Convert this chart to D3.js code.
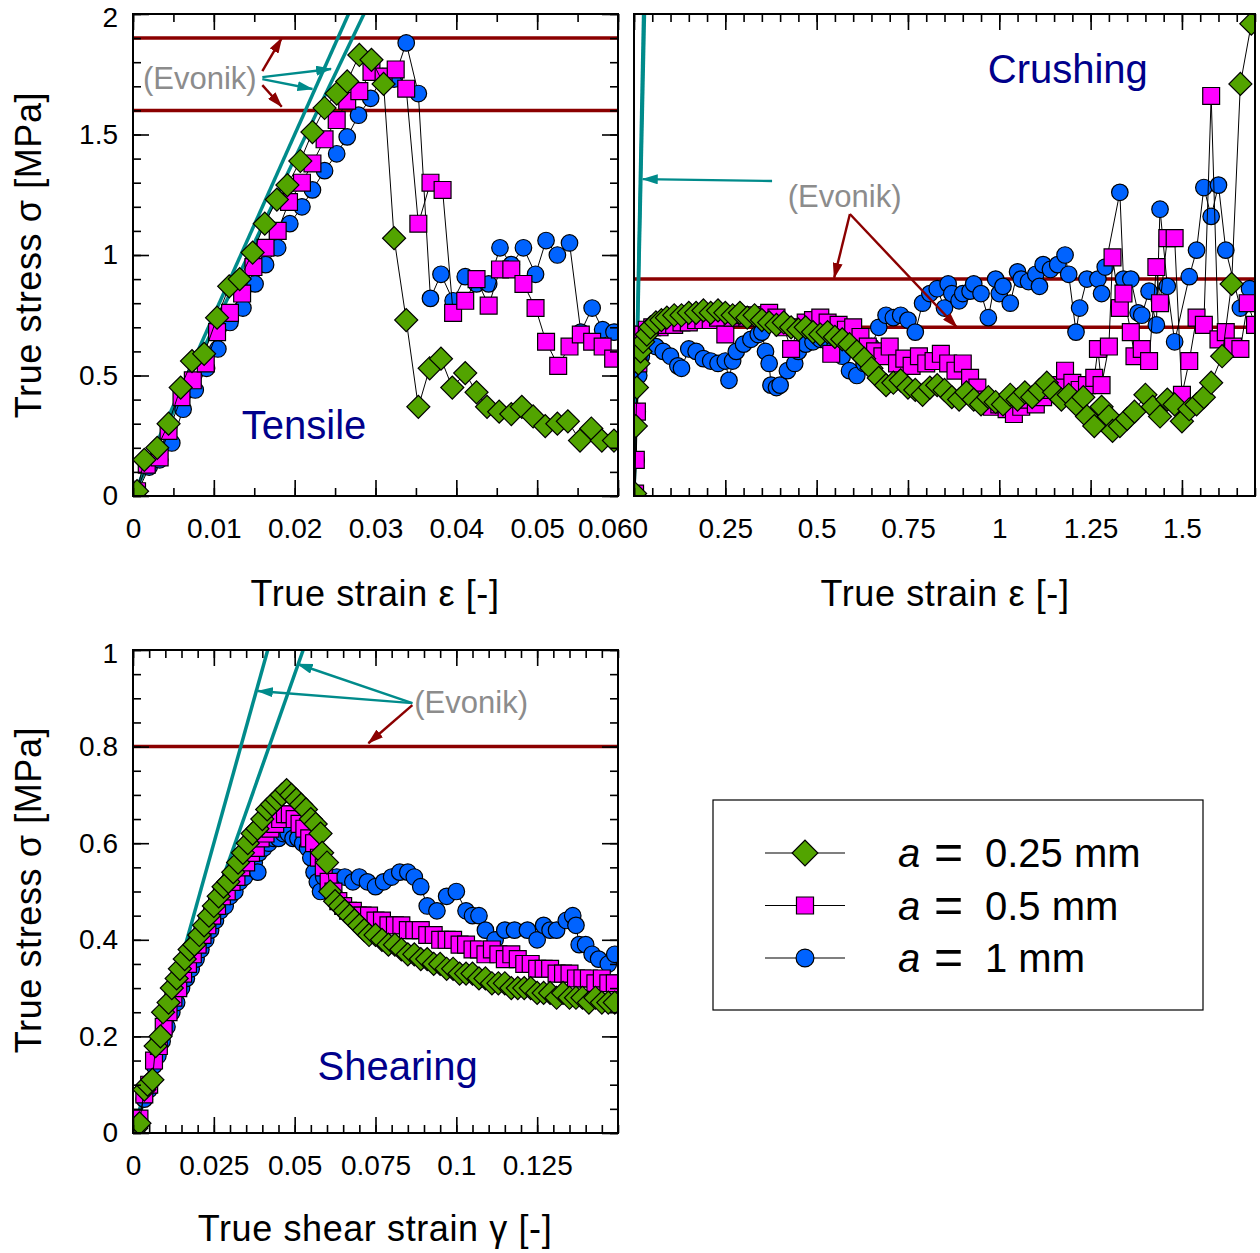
<!DOCTYPE html>
<html><head><meta charset="utf-8">
<script src="https://cdn.jsdelivr.net/npm/d3@7"></script>
<style>
body{margin:0;background:#fff}
svg{display:block}
text{font-family:"Liberation Sans",Arial,sans-serif}
</style>
</head><body>
<svg id="c" width="1260" height="1253"></svg>
<script>
// ---------------- DATA ----------------
const seriesNames = ["a = 0.25 mm", "a = 0.5 mm", "a = 1 mm"];

// Tensile: [true strain, true stress MPa]
const tensileA025 = [[0.0005,0.02],[0.0014,0.15],[0.0030,0.20],[0.0044,0.30],[0.0059,0.45],[0.0073,0.56],[0.0088,0.59],[0.0104,0.74],[0.0119,0.87],[0.0132,0.90],[0.0148,1.01],[0.0163,1.13],[0.0178,1.23],[0.0191,1.29],[0.0207,1.39],[0.0222,1.51],[0.0237,1.61],[0.0252,1.67],[0.0265,1.72],[0.0280,1.83],[0.0295,1.81],[0.0310,1.71],[0.0323,1.07],[0.0338,0.73],[0.0353,0.37],[0.0367,0.53],[0.0381,0.57],[0.0395,0.45],[0.0411,0.51],[0.0425,0.43],[0.0438,0.37],[0.0453,0.35],[0.0468,0.34],[0.0481,0.37],[0.0495,0.33],[0.0510,0.29],[0.0525,0.30],[0.0538,0.31],[0.0553,0.23],[0.0567,0.28],[0.0580,0.23],[0.0595,0.23]];
const tensileA05 = [[0.0005,0.02],[0.0017,0.13],[0.0033,0.16],[0.0044,0.27],[0.0060,0.41],[0.0074,0.48],[0.0090,0.55],[0.0104,0.68],[0.0120,0.76],[0.0135,0.84],[0.0149,0.95],[0.0164,1.03],[0.0179,1.10],[0.0193,1.22],[0.0209,1.30],[0.0222,1.38],[0.0237,1.48],[0.0252,1.56],[0.0265,1.64],[0.0280,1.68],[0.0295,1.76],[0.0310,1.74],[0.0325,1.77],[0.0338,1.69],[0.0353,1.13],[0.0368,1.30],[0.0383,1.27],[0.0396,0.76],[0.0411,0.81],[0.0425,0.90],[0.0440,0.79],[0.0454,0.94],[0.0468,0.94],[0.0483,0.88],[0.0498,0.78],[0.0511,0.64],[0.0526,0.54],[0.0540,0.62],[0.0554,0.67],[0.0568,0.64],[0.0581,0.62],[0.0594,0.57]];
const tensileA1 = [[0.0005,0.01],[0.0020,0.12],[0.0033,0.15],[0.0048,0.22],[0.0062,0.36],[0.0077,0.44],[0.0091,0.53],[0.0105,0.61],[0.0120,0.72],[0.0136,0.78],[0.0151,0.88],[0.0164,0.96],[0.0179,1.03],[0.0194,1.13],[0.0209,1.20],[0.0222,1.27],[0.0237,1.35],[0.0252,1.42],[0.0265,1.49],[0.0279,1.58],[0.0294,1.65],[0.0309,1.74],[0.0323,1.73],[0.0338,1.88],[0.0353,1.67],[0.0368,0.82],[0.0381,0.92],[0.0396,0.81],[0.0411,0.91],[0.0425,0.88],[0.0440,0.88],[0.0454,1.03],[0.0468,0.96],[0.0483,1.03],[0.0498,0.92],[0.0511,1.06],[0.0525,1.00],[0.0540,1.05],[0.0554,0.68],[0.0568,0.78],[0.0581,0.69],[0.0595,0.68]];

// Crushing: [true strain, true stress MPa]
const crushA025 = [[0.003,0.01],[0.005,0.29],[0.008,0.45],[0.012,0.55],[0.018,0.60],[0.025,0.64],[0.035,0.67],[0.045,0.70],[0.06,0.72],[0.075,0.73],[0.09,0.74],[0.11,0.75],[0.13,0.75],[0.15,0.76],[0.17,0.76],[0.19,0.77],[0.21,0.76],[0.23,0.77],[0.25,0.76],[0.27,0.75],[0.29,0.76],[0.31,0.74],[0.33,0.75],[0.35,0.73],[0.37,0.72],[0.39,0.71],[0.41,0.72],[0.43,0.70],[0.45,0.69],[0.47,0.70],[0.49,0.68],[0.51,0.67],[0.53,0.68],[0.55,0.66],[0.57,0.65],[0.59,0.63],[0.61,0.60],[0.63,0.57],[0.65,0.53],[0.67,0.49],[0.69,0.46],[0.71,0.47],[0.73,0.48],[0.75,0.45],[0.77,0.44],[0.79,0.42],[0.81,0.45],[0.83,0.46],[0.85,0.44],[0.87,0.41],[0.89,0.40],[0.91,0.43],[0.93,0.40],[0.95,0.38],[0.97,0.41],[0.99,0.39],[1.01,0.38],[1.03,0.42],[1.05,0.40],[1.07,0.43],[1.09,0.41],[1.11,0.44],[1.13,0.47],[1.15,0.43],[1.17,0.40],[1.19,0.42],[1.21,0.38],[1.23,0.41],[1.24,0.33],[1.26,0.29],[1.28,0.37],[1.30,0.33],[1.31,0.27],[1.33,0.29],[1.35,0.32],[1.37,0.35],[1.40,0.42],[1.42,0.37],[1.44,0.33],[1.46,0.40],[1.48,0.38],[1.50,0.31],[1.52,0.36],[1.54,0.38],[1.56,0.41],[1.58,0.47],[1.61,0.58],[1.636,0.88],[1.66,1.71],[1.69,1.96]];
const crushA05 = [[0.003,0.01],[0.005,0.15],[0.008,0.35],[0.012,0.55],[0.018,0.63],[0.025,0.67],[0.035,0.69],[0.05,0.70],[0.07,0.70],[0.09,0.71],[0.11,0.71],[0.13,0.72],[0.15,0.72],[0.17,0.73],[0.19,0.73],[0.21,0.73],[0.23,0.74],[0.25,0.67],[0.27,0.74],[0.29,0.75],[0.31,0.74],[0.33,0.75],[0.35,0.75],[0.37,0.76],[0.39,0.74],[0.41,0.70],[0.43,0.61],[0.45,0.70],[0.47,0.72],[0.49,0.73],[0.51,0.74],[0.53,0.72],[0.54,0.59],[0.56,0.71],[0.58,0.69],[0.60,0.70],[0.62,0.66],[0.64,0.62],[0.66,0.60],[0.68,0.58],[0.70,0.62],[0.72,0.55],[0.74,0.57],[0.76,0.54],[0.78,0.58],[0.80,0.55],[0.82,0.56],[0.84,0.59],[0.86,0.55],[0.88,0.52],[0.90,0.55],[0.92,0.49],[0.94,0.45],[0.96,0.40],[0.98,0.37],[1.00,0.38],[1.02,0.36],[1.04,0.34],[1.06,0.37],[1.08,0.40],[1.10,0.38],[1.12,0.41],[1.14,0.44],[1.16,0.46],[1.18,0.52],[1.20,0.47],[1.22,0.44],[1.24,0.46],[1.26,0.49],[1.27,0.61],[1.28,0.46],[1.30,0.62],[1.31,0.99],[1.33,0.78],[1.34,0.84],[1.36,0.68],[1.37,0.58],[1.39,0.61],[1.41,0.56],[1.43,0.95],[1.44,0.80],[1.46,1.07],[1.48,1.07],[1.50,0.42],[1.52,0.56],[1.54,0.74],[1.56,0.71],[1.58,1.66],[1.60,0.65],[1.62,0.68],[1.64,0.62],[1.66,0.61],[1.68,0.80],[1.70,0.71]];
const crushA1 = [[0.003,0.01],[0.006,0.15],[0.009,0.35],[0.013,0.50],[0.02,0.58],[0.03,0.62],[0.045,0.63],[0.06,0.62],[0.08,0.60],[0.10,0.58],[0.12,0.54],[0.13,0.53],[0.15,0.61],[0.17,0.60],[0.19,0.57],[0.21,0.56],[0.23,0.55],[0.25,0.56],[0.26,0.48],[0.27,0.56],[0.28,0.60],[0.30,0.63],[0.32,0.65],[0.34,0.67],[0.35,0.68],[0.36,0.60],[0.37,0.55],[0.375,0.46],[0.39,0.45],[0.40,0.46],[0.42,0.52],[0.44,0.55],[0.45,0.60],[0.47,0.63],[0.49,0.64],[0.51,0.65],[0.53,0.64],[0.55,0.62],[0.57,0.58],[0.59,0.52],[0.61,0.50],[0.63,0.55],[0.65,0.62],[0.67,0.70],[0.69,0.75],[0.71,0.74],[0.73,0.75],[0.75,0.73],[0.77,0.68],[0.79,0.80],[0.81,0.84],[0.83,0.86],[0.85,0.78],[0.86,0.88],[0.87,0.84],[0.89,0.81],[0.90,0.84],[0.92,0.85],[0.93,0.88],[0.95,0.84],[0.97,0.74],[0.99,0.90],[1.00,0.84],[1.01,0.87],[1.03,0.80],[1.05,0.93],[1.06,0.90],[1.08,0.89],[1.10,0.92],[1.11,0.87],[1.12,0.96],[1.14,0.94],[1.16,0.96],[1.18,1.00],[1.19,0.92],[1.21,0.68],[1.22,0.78],[1.24,0.90],[1.27,0.90],[1.28,0.84],[1.29,0.95],[1.33,1.26],[1.34,0.90],[1.36,0.90],[1.38,0.76],[1.39,0.75],[1.41,0.85],[1.43,0.71],[1.44,1.19],[1.46,0.87],[1.48,0.64],[1.52,0.91],[1.54,1.02],[1.56,1.28],[1.58,1.16],[1.60,1.29],[1.62,1.02],[1.66,0.78],[1.685,0.86]];

// Shearing: [true shear strain, true stress MPa]
const shearA025 = [[0.001,0.01],[0.002,0.02],[0.0035,0.09],[0.0045,0.10],[0.006,0.11],[0.007,0.18],[0.0085,0.20],[0.0093,0.25],[0.011,0.27],[0.012,0.30],[0.0135,0.32],[0.0145,0.34],[0.016,0.36],[0.0175,0.38],[0.019,0.39],[0.0205,0.41],[0.022,0.43],[0.0235,0.45],[0.025,0.47],[0.0265,0.49],[0.028,0.51],[0.0295,0.52],[0.031,0.54],[0.0325,0.56],[0.034,0.58],[0.0355,0.60],[0.037,0.62],[0.0385,0.63],[0.040,0.65],[0.0415,0.67],[0.043,0.68],[0.0445,0.69],[0.046,0.70],[0.0475,0.71],[0.049,0.70],[0.0505,0.69],[0.052,0.68],[0.0535,0.67],[0.055,0.65],[0.0565,0.64],[0.058,0.62],[0.0585,0.58],[0.060,0.56],[0.061,0.50],[0.0625,0.48],[0.064,0.47],[0.0655,0.46],[0.067,0.45],[0.0685,0.44],[0.070,0.43],[0.0715,0.42],[0.073,0.41],[0.075,0.41],[0.077,0.40],[0.079,0.39],[0.081,0.39],[0.083,0.38],[0.085,0.37],[0.087,0.37],[0.089,0.36],[0.091,0.36],[0.093,0.35],[0.095,0.35],[0.097,0.34],[0.099,0.34],[0.101,0.33],[0.103,0.33],[0.105,0.33],[0.107,0.32],[0.109,0.32],[0.111,0.31],[0.113,0.31],[0.115,0.31],[0.117,0.30],[0.119,0.30],[0.121,0.30],[0.123,0.30],[0.125,0.29],[0.127,0.29],[0.129,0.29],[0.131,0.28],[0.133,0.29],[0.135,0.28],[0.137,0.28],[0.139,0.28],[0.141,0.27],[0.143,0.28],[0.145,0.27],[0.147,0.27],[0.149,0.27]];
const shearA05 = [[0.001,0.01],[0.002,0.03],[0.0035,0.08],[0.005,0.10],[0.0065,0.15],[0.008,0.18],[0.0095,0.22],[0.011,0.25],[0.0125,0.28],[0.014,0.30],[0.0155,0.33],[0.017,0.35],[0.0185,0.37],[0.020,0.39],[0.0215,0.41],[0.023,0.43],[0.0245,0.45],[0.026,0.47],[0.0275,0.49],[0.029,0.50],[0.0305,0.52],[0.032,0.53],[0.0335,0.55],[0.035,0.56],[0.0365,0.58],[0.038,0.59],[0.0395,0.61],[0.041,0.62],[0.0425,0.63],[0.044,0.64],[0.0455,0.65],[0.047,0.66],[0.0485,0.66],[0.050,0.65],[0.0515,0.64],[0.053,0.63],[0.0545,0.61],[0.056,0.60],[0.0575,0.57],[0.059,0.55],[0.0605,0.52],[0.062,0.50],[0.0635,0.48],[0.065,0.47],[0.0665,0.46],[0.068,0.46],[0.0695,0.45],[0.071,0.45],[0.073,0.45],[0.075,0.44],[0.077,0.44],[0.079,0.43],[0.081,0.43],[0.083,0.43],[0.085,0.42],[0.087,0.42],[0.089,0.42],[0.091,0.41],[0.093,0.41],[0.095,0.40],[0.097,0.40],[0.099,0.40],[0.101,0.39],[0.103,0.39],[0.105,0.38],[0.107,0.38],[0.109,0.37],[0.111,0.38],[0.113,0.37],[0.115,0.36],[0.117,0.37],[0.119,0.36],[0.121,0.35],[0.123,0.35],[0.125,0.34],[0.127,0.34],[0.129,0.34],[0.131,0.33],[0.133,0.33],[0.135,0.33],[0.137,0.32],[0.139,0.32],[0.141,0.32],[0.143,0.31],[0.145,0.32],[0.147,0.31],[0.149,0.31]];
const shearA1 = [[0.001,0.01],[0.002,0.02],[0.0035,0.07],[0.005,0.09],[0.0065,0.14],[0.0077,0.16],[0.009,0.19],[0.0105,0.22],[0.012,0.25],[0.0135,0.27],[0.015,0.30],[0.0165,0.32],[0.018,0.34],[0.0195,0.36],[0.021,0.38],[0.0225,0.40],[0.024,0.42],[0.0255,0.44],[0.027,0.46],[0.0285,0.47],[0.030,0.49],[0.0315,0.50],[0.033,0.52],[0.0345,0.53],[0.036,0.55],[0.0375,0.56],[0.0386,0.54],[0.039,0.58],[0.0405,0.59],[0.042,0.60],[0.0435,0.61],[0.045,0.61],[0.0465,0.62],[0.048,0.62],[0.0495,0.61],[0.051,0.61],[0.0525,0.60],[0.054,0.59],[0.055,0.57],[0.056,0.54],[0.057,0.52],[0.058,0.50],[0.059,0.53],[0.061,0.52],[0.063,0.53],[0.0655,0.53],[0.068,0.52],[0.070,0.53],[0.0725,0.52],[0.075,0.51],[0.0775,0.52],[0.080,0.53],[0.0825,0.54],[0.085,0.54],[0.087,0.53],[0.089,0.51],[0.091,0.47],[0.094,0.46],[0.097,0.49],[0.100,0.50],[0.103,0.46],[0.105,0.45],[0.107,0.45],[0.109,0.42],[0.112,0.40],[0.115,0.42],[0.118,0.42],[0.122,0.42],[0.125,0.40],[0.127,0.43],[0.129,0.42],[0.131,0.42],[0.134,0.44],[0.136,0.45],[0.137,0.43],[0.138,0.39],[0.140,0.39],[0.142,0.37],[0.144,0.36],[0.147,0.35],[0.149,0.37]];

// Evonik reference values
const evonikTensileModulus = [75, 70];      // MPa (teal lines)
const evonikTensileStrength = [1.9, 1.6];   // MPa (dark red lines)
const evonikCrushModulus = [76, 70];
const evonikCrushStrength = [0.9, 0.7];
const evonikShearModulus = [24, 19];
const evonikShearStrength = [0.8];

// Tick labels
const tensileXTicks = [0, 0.01, 0.02, 0.03, 0.04, 0.05, 0.06];
const tensileXLabels = ["0","0.01","0.02","0.03","0.04","0.05","0.06"];
const stressYTicks = [0, 0.5, 1, 1.5, 2];
const stressYLabels = ["0","0.5","1","1.5","2"];
const crushXTicks = [0, 0.25, 0.5, 0.75, 1, 1.25, 1.5];
const crushXLabels = ["0","0.25","0.5","0.75","1","1.25","1.5"];
const shearXTicks = [0, 0.025, 0.05, 0.075, 0.1, 0.125];
const shearXLabels = ["0","0.025","0.05","0.075","0.1","0.125"];
const shearYTicks = [0, 0.2, 0.4, 0.6, 0.8, 1];
const shearYLabels = ["0","0.2","0.4","0.6","0.8","1"];

// ---------------- DRAWING ----------------
const GREEN = "#52a400", MAGENTA = "#ff00ff", BLUE = "#0063ff";
const TEAL = "#008b8b", DARKRED = "#8b0000", NAVY = "#00008b", GRAY = "#8c8c8c";
const styles = [
  {color: GREEN, shape: "diamond"},
  {color: MAGENTA, shape: "square"},
  {color: BLUE, shape: "circle"}
];

const svg = d3.select("#c");
const defs = svg.append("defs");
function arrowDef(id, color) {
  defs.append("marker").attr("id", id)
    .attr("viewBox", "0 0 16 10").attr("refX", 15).attr("refY", 5)
    .attr("markerWidth", 16).attr("markerHeight", 10)
    .attr("markerUnits", "userSpaceOnUse").attr("orient", "auto")
    .append("path").attr("d", "M0,0 L16,5 L0,10 Z").attr("fill", color);
}
arrowDef("arT", TEAL);
arrowDef("arR", DARKRED);

function symbolPath(shape) {
  if (shape === "diamond") return d3.symbol(d3.symbolSquare, 265)();
  if (shape === "square") return d3.symbol(d3.symbolSquare, 285)();
  return d3.symbol(d3.symbolCircle, 215)();
}

let clipN = 0;
function panel(cfg) {
  const x = d3.scaleLinear().domain(cfg.xd).range([cfg.x0, cfg.x1]);
  const y = d3.scaleLinear().domain(cfg.yd).range([cfg.y1, cfg.y0]);
  const g = svg.append("g");
  const cid = "clip" + (clipN++);
  defs.append("clipPath").attr("id", cid).append("rect")
    .attr("x", cfg.x0).attr("y", cfg.y0).attr("width", cfg.x1 - cfg.x0).attr("height", cfg.y1 - cfg.y0);
  const plot = g.append("g").attr("clip-path", `url(#${cid})`);

  cfg.strength.forEach(s => {
    plot.append("line").attr("x1", cfg.x0).attr("x2", cfg.x1).attr("y1", y(s)).attr("y2", y(s))
      .attr("stroke", DARKRED).attr("stroke-width", 3.5);
  });
  cfg.modulus.forEach(E => {
    const top = cfg.yd[1];
    plot.append("line").attr("x1", x(0)).attr("y1", y(0)).attr("x2", x(top / E)).attr("y2", y(top))
      .attr("stroke", TEAL).attr("stroke-width", 3.5);
  });

  const line = d3.line().x(d => x(d[0])).y(d => y(d[1]));
  [2, 1, 0].forEach(i => {
    const data = cfg.series[i];
    const st = styles[i];
    plot.append("path").attr("d", line(data)).attr("fill", "none").attr("stroke", "#000").attr("stroke-width", 1);
    plot.selectAll(null).data(data).enter().append("path")
      .attr("d", symbolPath(st.shape))
      .attr("transform", d => `translate(${x(d[0])},${y(d[1])})` + (st.shape === "diamond" ? " rotate(45)" : ""))
      .attr("fill", st.color).attr("stroke", "#000").attr("stroke-width", 1.2);
  });

  function addAxis(axisFn, scale, major, labels, minor, transform, showLabels, lenMaj, lenMin) {
    const aMin = g.append("g").attr("transform", transform)
      .call(axisFn(scale).tickValues(minor).tickSize(-lenMin).tickFormat(""));
    aMin.select(".domain").remove();
    const aMaj = g.append("g").attr("transform", transform)
      .call(axisFn(scale).tickValues(major).tickSize(-lenMaj).tickPadding(14)
        .tickFormat((d, i) => showLabels ? labels[i] : ""));
    aMaj.select(".domain").remove();
    aMaj.selectAll("text").style("font-size", "28px").attr("fill", "#000");
    g.selectAll(".tick line").attr("stroke", "#000").attr("stroke-width", 1.6);
    return aMaj;
  }
  const bx = addAxis(d3.axisBottom, x, cfg.xMajor, cfg.xLabels, cfg.xMinor, `translate(0,${cfg.y1})`, true, 16, 8);
  bx.selectAll("text").attr("y", 22);
  addAxis(d3.axisTop, x, cfg.xMajor, cfg.xLabels, cfg.xMinor, `translate(0,${cfg.y0})`, false, 16, 8);
  if (cfg.yMajor) {
    const ly = addAxis(d3.axisLeft, y, cfg.yMajor, cfg.yLabels, cfg.yMinor, `translate(${cfg.x0},0)`, true, 16, 8);
    ly.selectAll("text").attr("x", -15);
    // keep the topmost label inside the page
    ly.selectAll("text").filter((d, i) => i === cfg.yMajor.length - 1).attr("y", 4);
    addAxis(d3.axisRight, y, cfg.yMajor, cfg.yLabels, cfg.yMinor, `translate(${cfg.x1},0)`, false, 16, 8);
  }
  if (cfg.after) cfg.after(bx);

  g.append("rect").attr("x", cfg.x0).attr("y", cfg.y0).attr("width", cfg.x1 - cfg.x0).attr("height", cfg.y1 - cfg.y0)
    .attr("fill", "none").attr("stroke", "#000").attr("stroke-width", 2);

  g.append("text").attr("x", x(cfg.title[1])).attr("y", y(cfg.title[2])).text(cfg.title[0])
    .attr("fill", NAVY).style("font-size", "40px");

  const ann = cfg.evonik;
  g.append("text").attr("x", x(ann.text[0])).attr("y", y(ann.text[1])).text("(Evonik)")
    .attr("fill", GRAY).style("font-size", "31px");
  ann.arrows.forEach(a => {
    g.append("line").attr("x1", x(a[0])).attr("y1", y(a[1])).attr("x2", x(a[2])).attr("y2", y(a[3]))
      .attr("stroke", a[4] === "t" ? TEAL : DARKRED).attr("stroke-width", 2.4)
      .attr("marker-end", a[4] === "t" ? "url(#arT)" : "url(#arR)");
  });
  return {x, y, g};
}

// Tensile
panel({
  x0: 133, x1: 618, y0: 14, y1: 496, xd: [0, 0.06], yd: [0, 2],
  xMajor: tensileXTicks, xLabels: tensileXLabels, xMinor: d3.range(0, 0.0601, 0.005),
  yMajor: stressYTicks, yLabels: stressYLabels, yMinor: d3.range(0, 2.0001, 0.1),
  series: [tensileA025, tensileA05, tensileA1],
  strength: evonikTensileStrength, modulus: evonikTensileModulus,
  title: ["Tensile", 0.01346, 0.2365],
  evonik: {text: [0.00123, 1.689], arrows: [
    [0.0160, 1.763, 0.0184, 1.90, "r"],
    [0.0160, 1.705, 0.0184, 1.615, "r"],
    [0.0160, 1.738, 0.0245, 1.772, "t"],
    [0.0160, 1.730, 0.0222, 1.689, "t"]
  ]},
  after: bx => bx.selectAll("text").filter((d, i) => i === tensileXTicks.length - 1).attr("text-anchor", "end").attr("x", 14)
});
// Crushing
panel({
  x0: 634, x1: 1255, y0: 14, y1: 496, xd: [0, 1.7], yd: [0, 2],
  xMajor: crushXTicks, xLabels: crushXLabels, xMinor: d3.range(0, 1.7001, 0.05),
  series: [crushA025, crushA05, crushA1],
  strength: evonikCrushStrength, modulus: evonikCrushModulus,
  title: ["Crushing", 0.9685, 1.714],
  evonik: {text: [0.421, 1.199], arrows: [
    [0.378, 1.307, 0.024, 1.315, "t"],
    [0.591, 1.17, 0.548, 0.905, "r"],
    [0.591, 1.17, 0.884, 0.70, "r"]
  ]},
  after: bx => bx.selectAll("text").filter((d, i) => i === 0).attr("text-anchor", "start").attr("x", -2)
});
// Shearing
panel({
  x0: 133, x1: 618, y0: 650, y1: 1133, xd: [0, 0.15], yd: [0, 1],
  xMajor: shearXTicks, xLabels: shearXLabels, xMinor: d3.range(0, 0.1501, 0.005),
  yMajor: shearYTicks, yLabels: shearYLabels, yMinor: d3.range(0, 1.0001, 0.05),
  series: [shearA025, shearA05, shearA1],
  strength: evonikShearStrength, modulus: evonikShearModulus,
  title: ["Shearing", 0.0571, 0.11],
  evonik: {text: [0.087, 0.8696], arrows: [
    [0.0864, 0.890, 0.0386, 0.915, "t"],
    [0.0864, 0.890, 0.0509, 0.971, "t"],
    [0.0864, 0.886, 0.0728, 0.807, "r"]
  ]}
});

// Axis titles
function axTitle(txt, x, y, rot) {
  svg.append("text").attr("transform", `translate(${x},${y})` + (rot ? " rotate(-90)" : ""))
    .attr("text-anchor", "middle").style("font-size", "36px").style("letter-spacing", "0.6px")
    .attr("fill", "#000").text(txt);
}
axTitle("True stress σ [MPa]", 41, 255, true);
axTitle("True strain ε [-]", 375, 606, false);
axTitle("True strain ε [-]", 945, 606, false);
axTitle("True stress σ [MPa]", 41, 890, true);
axTitle("True shear strain γ [-]", 375, 1241, false);

// Legend
const lg = svg.append("g");
lg.append("rect").attr("x", 713).attr("y", 800).attr("width", 490).attr("height", 210)
  .attr("fill", "#fff").attr("stroke", "#000").attr("stroke-width", 1.2);
const legendY = d3.scalePoint().domain(seriesNames).range([853, 958]);
const legendSizes = [330, 290, 250];
seriesNames.forEach((name, i) => {
  const yy = legendY(name);
  lg.append("line").attr("x1", 765).attr("x2", 845).attr("y1", yy).attr("y2", yy).attr("stroke", "#000").attr("stroke-width", 1.2);
  const st = styles[i];
  lg.append("path").attr("d", d3.symbol(st.shape === "circle" ? d3.symbolCircle : d3.symbolSquare, legendSizes[i])())
    .attr("transform", `translate(805,${yy})` + (st.shape === "diamond" ? " rotate(45)" : ""))
    .attr("fill", st.color).attr("stroke", "#000").attr("stroke-width", 1.2);
  const parts = name.split(" = ");
  const t = lg.append("text").attr("y", yy + 14).style("font-size", "40px").attr("fill", "#000");
  t.append("tspan").attr("x", 898).style("font-style", "italic").text(parts[0]);
  t.append("tspan").attr("x", 934).style("font-size", "50px").attr("dy", 2).text("=");
  t.append("tspan").attr("x", 985).attr("dy", -2).text(parts[1]);
});
</script>
</body></html>
